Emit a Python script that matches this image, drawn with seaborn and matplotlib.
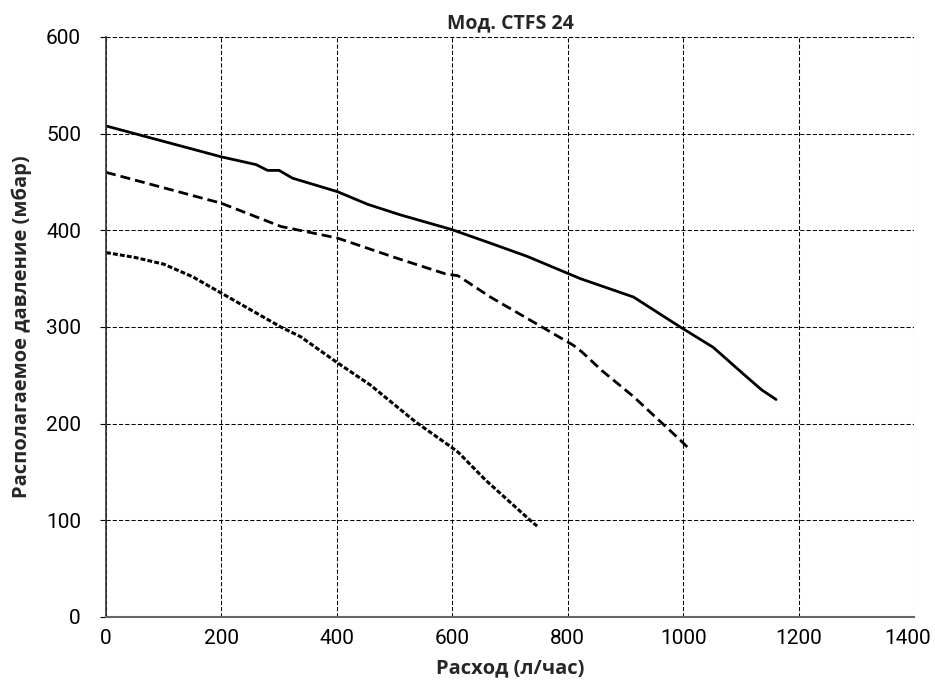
import matplotlib
matplotlib.use("Agg")
import matplotlib.pyplot as plt
import matplotlib.transforms as mtransforms
import seaborn as sns
import pandas as pd

# Data
x_solid = [0, 100, 200, 260, 280, 300, 323, 401, 453, 510, 598, 660, 730, 822, 914, 995, 1052, 1107, 1136, 1161]
y_solid = [508, 492, 476, 468, 462, 462, 454, 440, 427, 416, 401, 388, 373, 350, 331, 300, 279, 250, 235, 225]

x_dashed = [0, 100, 200, 303, 401, 510, 588, 610, 666, 741, 810, 825, 859, 914, 995, 1012]
y_dashed = [460, 444, 428, 404, 392, 370, 355, 353, 331, 305, 281, 274, 255, 228, 183, 173]

x_dotted = [0, 50, 100, 150, 200, 303, 337, 401, 458, 536, 600, 611, 657, 735, 747]
y_dotted = [377, 372, 365, 352, 335, 300, 290, 263, 240, 202, 175, 170, 142, 100, 94]

x_ticks = [0, 200, 400, 600, 800, 1000, 1200, 1400]
y_ticks = [0, 100, 200, 300, 400, 500, 600]

title = "Мод. CTFS 24"
x_label = "Расход (л/час)"
y_label = "Располагаемое давление (мбар)"

sns.set_theme(style="white")
plt.rcParams['font.family'] = ['Open Sans', 'DejaVu Sans']

fig = plt.figure(figsize=(9.35, 6.84), dpi=100)
ax = fig.add_axes([106/935, 1-617/684, (914-106)/935, (617-37)/684])

df_s = pd.DataFrame({"x": x_solid, "y": y_solid})
df_d = pd.DataFrame({"x": x_dashed, "y": y_dashed})
df_o = pd.DataFrame({"x": x_dotted, "y": y_dotted})

sns.lineplot(data=df_s, x="x", y="y", ax=ax, color="black", lw=2.0, sort=False, estimator=None)
sns.lineplot(data=df_d, x="x", y="y", ax=ax, color="black", lw=2.0, sort=False, estimator=None,
             linestyle=(0, (3.6, 1.8)))
sns.lineplot(data=df_o, x="x", y="y", ax=ax, color="black", lw=2.2, sort=False, estimator=None,
             linestyle=(0, (1.6, 0.7)))

ax.set_xlim(0, 1400)
ax.set_ylim(0, 600)
ax.set_xticks(x_ticks)
ax.set_yticks(y_ticks)
ax.grid(True, color="black", lw=0.75, linestyle=(0, (4, 2)))
ax.set_axisbelow(True)

for s in ["top", "right"]:
    ax.spines[s].set_visible(False)
ax.spines["left"].set_color("#333333")
ax.spines["left"].set_linewidth(1.2)
ax.spines["bottom"].set_color("#666666")
ax.spines["bottom"].set_linewidth(1.5)

ax.tick_params(axis="y", which="both", left=True, length=4, width=0.8, color="black", pad=14)
ax.tick_params(axis="x", which="both", bottom=False, pad=3)
for lbl in ax.get_xticklabels() + ax.get_yticklabels():
    lbl.set_color("black")
    lbl.set_family(['Roboto', 'DejaVu Sans'])
    lbl.set_fontsize(15)

# keep the last x label inside the canvas
last = ax.get_xticklabels()[-1]
last.set_transform(last.get_transform() + mtransforms.ScaledTranslation(-6/100, 0, fig.dpi_scale_trans))

ax.set_title(title, fontsize=14, fontweight="bold", pad=6)
ax.set_xlabel(x_label, fontsize=14.5, fontweight="bold", labelpad=7)
ax.set_ylabel(y_label, fontsize=14.5, fontweight="bold", labelpad=10)

fig.savefig("out.png", dpi=100)
